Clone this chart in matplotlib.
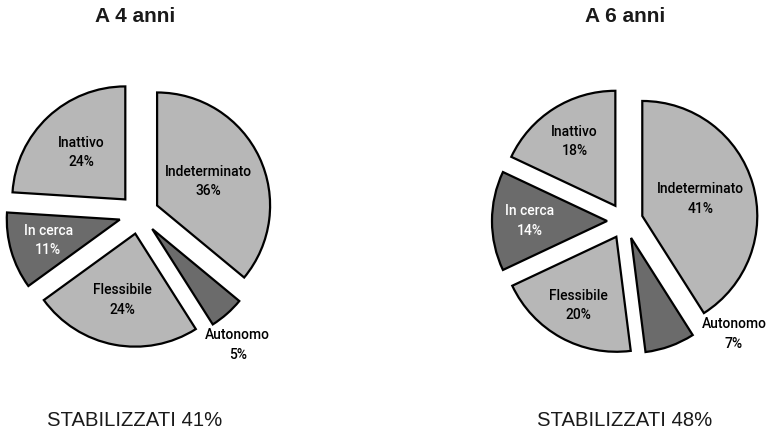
import numpy as np
import matplotlib.pyplot as plt

# -----------------------------
# Data
# -----------------------------
categories = ["Indeterminato", "Autonomo", "Flessibile", "In cerca", "Inattivo"]
values_4 = [36, 5, 24, 11, 24]
values_6 = [41, 7, 20, 14, 18]
titles = ["A 4 anni", "A 6 anni"]
footers = ["STABILIZZATI 41%", "STABILIZZATI 48%"]

# -----------------------------
# Style
# -----------------------------
narrow = ["Liberation Sans Narrow", "Roboto", "DejaVu Sans"]
LIGHT = "#b7b7b7"
DARK = "#6b6b6b"
colors = [LIGHT, DARK, LIGHT, DARK, LIGHT]
text_colors = ["black", "black", "black", "white", "black"]

W, H = 766, 433
fig = plt.figure(figsize=(W / 100, H / 100), dpi=100)
ax = fig.add_axes([0, 0, 1, 1])

# pie centres / radius / explosion in pixel units
# ldist: label distance (fraction of r) along wedge middle;
# outside: (angle, px from centre) for the Autonomo label
pies = [
    dict(values=values_4, center=(139, H - 214), r=113, d=20,
         ldist=[0.50, None, 0.60, 0.66, 0.57], outside=(-53, 164), x=135),
    dict(values=values_6, center=(625, H - 221), r=115, d=18,
         ldist=[0.53, None, 0.68, 0.67, 0.66], outside=(-46, 157), x=625),
]

for i, p in enumerate(pies):
    ex = [p["d"]] * len(categories)  # explode is in data units here
    wedges, _ = ax.pie(p["values"], center=p["center"], radius=p["r"],
                       explode=ex, startangle=90, counterclock=False,
                       colors=colors,
                       wedgeprops=dict(edgecolor="black", linewidth=1.6))
    for w, cat, v, ld, tc in zip(wedges, categories, p["values"], p["ldist"], text_colors):
        if ld is None:
            ang, dist = p["outside"]
            cx, cy = p["center"]
            x = cx + dist * np.cos(np.deg2rad(ang))
            y = cy + dist * np.sin(np.deg2rad(ang))
        else:
            mid = np.deg2rad((w.theta1 + w.theta2) / 2)
            cx, cy = w.center
            x = cx + ld * p["r"] * np.cos(mid)
            y = cy + ld * p["r"] * np.sin(mid)
        ax.text(x, y, f"{cat}\n{v}%", ha="center", va="center",
                fontsize=10, family=narrow, fontweight="medium",
                color=tc, linespacing=1.5)
    ax.text(p["x"], H - 17, titles[i], ha="center", va="center",
            fontsize=15, fontweight="bold", family="Liberation Sans", color="#1a1a1a")
    ax.text(p["x"], H - 421, footers[i], ha="center", va="center",
            fontsize=14.6, family="Liberation Sans", color="#1a1a1a")

ax.set_xlim(0, W)
ax.set_ylim(0, H)
ax.set_aspect("auto")
ax.axis("off")

fig.savefig("out.png", dpi=100, facecolor="white")
